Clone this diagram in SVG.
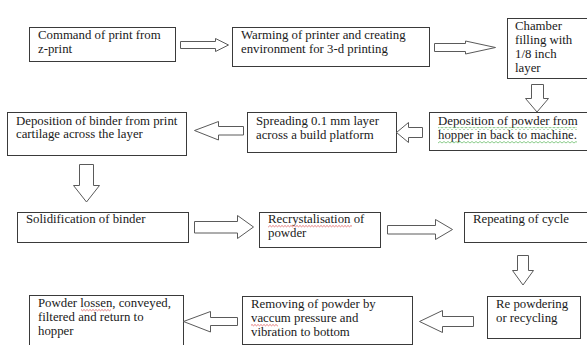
<svg xmlns="http://www.w3.org/2000/svg" width="587" height="345" viewBox="0 0 587 345">
<style>
.box{fill:#fff;stroke:#3a3a3a;stroke-width:1}
.arr{fill:#fff;stroke:#5a5a5a;stroke-width:1;stroke-linejoin:miter}
text{font-family:"Liberation Serif","Times New Roman",serif;font-size:12.8px;fill:#1a1a1a}
.sq-g{fill:none;stroke:#6fbf6f;stroke-width:0.8}
.sq-r{fill:none;stroke:#e06060;stroke-width:0.8}
</style>
<defs>
<pattern id="wg" width="4" height="3" patternUnits="userSpaceOnUse"><path d="M0,0.5 L2,2 L4,0.5" fill="none" stroke="#6fbf6f" stroke-width="0.8"/></pattern>
<pattern id="wr" width="3" height="3" patternUnits="userSpaceOnUse"><path d="M0,0.5 L1.5,1.8 L3,0.5" fill="none" stroke="#e06060" stroke-width="0.8"/></pattern>
</defs>
<rect width="587" height="345" fill="#fff"/>
<g id="n1"><rect class="box" x="29.5" y="27.5" width="146" height="34"/><text x="38" y="39">Command of print from</text><text x="38" y="53">z-print</text></g>
<g id="n2"><rect class="box" x="232.5" y="27.5" width="197" height="39"/><text x="241" y="39">Warming of printer and creating</text><text x="241" y="53">environment for 3-d printing</text></g>
<g id="n3"><rect class="box" x="507.5" y="18.5" width="82" height="60"/><text x="515" y="30">Chamber</text><text x="515" y="44">filling with</text><text x="515" y="58">1/8 inch</text><text x="515" y="72">layer</text></g>
<g id="n4"><rect class="box" x="429.5" y="112.5" width="160" height="38"/><text x="438" y="125">Deposition of powder from</text><text x="438" y="139">hopper in back to machine.</text><rect x="438" y="127" width="139" height="3" fill="url(#wg)"/><rect x="438" y="141" width="139" height="3" fill="url(#wg)"/></g>
<g id="n5"><rect class="box" x="247.5" y="112.5" width="149" height="40"/><text x="256" y="125">Spreading 0.1 mm layer</text><text x="256" y="139">across a build platform</text></g>
<g id="n6"><rect class="box" x="7.5" y="112.5" width="179" height="43"/><text x="16" y="125">Deposition of binder from print</text><text x="16" y="138">cartilage across the layer</text></g>
<g id="n7"><rect class="box" x="17.5" y="212.5" width="171" height="30"/><text x="26" y="223">Solidification of binder</text></g>
<g id="n8"><rect class="box" x="259.5" y="212.5" width="121" height="35"/><text x="268" y="223">Recrystalisation of</text><text x="268" y="237">powder</text><rect x="268" y="225" width="84" height="3" fill="url(#wr)"/></g>
<g id="n9"><rect class="box" x="464.5" y="212.5" width="124" height="30"/><text x="473" y="223">Repeating of cycle</text></g>
<g id="n10"><rect class="box" x="487.5" y="296.5" width="93" height="42"/><text x="496" y="308">Re powdering</text><text x="496" y="322">or recycling</text></g>
<g id="n11"><rect class="box" x="242.5" y="296.5" width="170" height="48"/><text x="251" y="308">Removing of powder by</text><text x="251" y="322">vaccum pressure and</text><text x="251" y="336">vibration to bottom</text><rect x="251" y="324" width="27" height="3" fill="url(#wr)"/></g>
<g id="n12"><rect class="box" x="29.5" y="295.5" width="154" height="52"/><text x="38" y="307">Powder lossen, conveyed,</text><text x="38" y="321">filtered and return to</text><text x="38" y="335">hopper</text><rect x="81" y="309" width="30" height="3" fill="url(#wr)"/></g>
<g id="connectors">
<polygon class="arr" points="180.5,41.5 215.5,41.5 215.5,38.5 228.5,45 215.5,51.5 215.5,48.5 180.5,48.5"/>
<polygon class="arr" points="434.5,43.5 465.5,43.5 465.5,41 495.5,47.5 465.5,54 465.5,51.5 434.5,51.5"/>
<polygon class="arr" points="531.5,84.5 543.5,84.5 543.5,98.5 548.5,98.5 537,112 525.5,98.5 531.5,98.5"/>
<polygon class="arr" points="422.5,127.5 408.5,127.5 408.5,122.5 396.5,132.5 408.5,142.5 408.5,137.5 422.5,137.5"/>
<polygon class="arr" points="243.5,126.5 218.5,126.5 218.5,121.5 194.5,130.5 218.5,140 218.5,135 243.5,135"/>
<polygon class="arr" points="79.5,164.5 93.5,164.5 93.5,185.5 99.5,185.5 86.5,202 73.5,185.5 79.5,185.5"/>
<polygon class="arr" points="194.5,221.5 237.5,221.5 237.5,215.5 253.5,227 237.5,238.5 237.5,233 194.5,233"/>
<polygon class="arr" points="387.5,225.5 435.5,225.5 435.5,219.5 452.5,229.5 435.5,239.5 435.5,234 387.5,234"/>
<polygon class="arr" points="517.5,255.5 528.5,255.5 528.5,270.5 533.5,270.5 523,285 512.5,270.5 517.5,270.5"/>
<polygon class="arr" points="473.5,316.5 442.5,316.5 442.5,310.5 419.5,321.5 442.5,332.5 442.5,326.5 473.5,326.5"/>
<polygon class="arr" points="237.5,317.5 210.5,317.5 210.5,311.5 183.5,321.5 210.5,332 210.5,325.5 237.5,325.5"/>
</g>
</svg>
